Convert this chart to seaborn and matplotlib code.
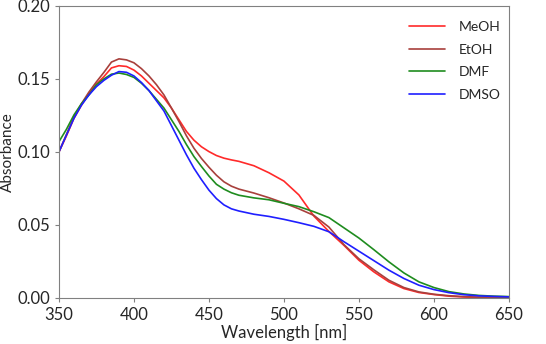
import pandas as pd
import seaborn as sns
import matplotlib.pyplot as plt

wavelength = [350, 355, 360, 365, 370, 375, 380, 385, 390, 395, 400, 405, 410, 415, 420, 425,
              430, 435, 440, 445, 450, 455, 460, 465, 470, 480, 490, 500, 510, 520, 530, 540,
              550, 560, 570, 580, 590, 600, 610, 620, 630, 640, 650]

meoh = [0.100, 0.111, 0.123, 0.132, 0.140, 0.1464, 0.1516, 0.1575, 0.159, 0.1585, 0.156, 0.152,
        0.147, 0.142, 0.137, 0.130, 0.122, 0.114, 0.108, 0.1035, 0.1002, 0.0975, 0.0957, 0.0945,
        0.0935, 0.0905, 0.0857, 0.080, 0.0705, 0.056, 0.0455, 0.036, 0.0258, 0.0178, 0.011,
        0.0064, 0.0037, 0.0023, 0.0012, 0.0006, 0.0003, 0.0002, 0.0001]
etoh = [0.100, 0.112, 0.124, 0.133, 0.141, 0.148, 0.1545, 0.1615, 0.1637, 0.163, 0.161, 0.157,
        0.152, 0.146, 0.139, 0.130, 0.1208, 0.111, 0.1025, 0.0955, 0.0895, 0.084, 0.0795, 0.0765,
        0.0745, 0.0718, 0.0686, 0.065, 0.061, 0.0565, 0.0485, 0.0365, 0.0268, 0.0192, 0.0121,
        0.0071, 0.0041, 0.0025, 0.0015, 0.0009, 0.0005, 0.0003, 0.0002]
dmf = [0.107, 0.1155, 0.1253, 0.133, 0.139, 0.146, 0.150, 0.1532, 0.154, 0.153, 0.151, 0.147,
       0.142, 0.136, 0.130, 0.122, 0.114, 0.105, 0.0968, 0.090, 0.0835, 0.0778, 0.0745, 0.072,
       0.0703, 0.0685, 0.0672, 0.0648, 0.0625, 0.059, 0.055, 0.048, 0.041, 0.033, 0.0247,
       0.0171, 0.011, 0.0071, 0.0043, 0.0027, 0.0017, 0.0012, 0.0009]
dmso = [0.100, 0.1116, 0.123, 0.132, 0.139, 0.1447, 0.149, 0.1525, 0.155, 0.1545, 0.152, 0.1475,
        0.142, 0.135, 0.128, 0.118, 0.108, 0.098, 0.0888, 0.081, 0.0738, 0.068, 0.0637, 0.061,
        0.0595, 0.0573, 0.0558, 0.0538, 0.0515, 0.049, 0.0453, 0.0385, 0.032, 0.0255, 0.019,
        0.0133, 0.0087, 0.0057, 0.0036, 0.0022, 0.0014, 0.001, 0.0007]

solvents = ["MeOH", "EtOH", "DMF", "DMSO"]
colors = ["#ff2a2a", "#a8403c", "#1f8c1f", "#1f1fff"]

df = pd.DataFrame({"Wavelength": wavelength, "MeOH": meoh, "EtOH": etoh, "DMF": dmf, "DMSO": dmso})
long = df.melt(id_vars="Wavelength", var_name="Solvent", value_name="Absorbance")

sns.set_style("ticks")
plt.rcParams['font.family'] = ['Lato', 'DejaVu Sans']

fig = plt.figure(figsize=(5.46, 3.44), dpi=100)
ax = fig.add_axes([0.108, 0.134, 0.824, 0.849])
sns.lineplot(data=long, x="Wavelength", y="Absorbance", hue="Solvent", hue_order=solvents,
             palette=colors, linewidth=1.2, ax=ax)

ax.set_xlim(350, 650)
ax.set_ylim(0, 0.2)
ax.set_xticks([350, 400, 450, 500, 550, 600, 650])
ax.set_yticks([0, 0.05, 0.10, 0.15, 0.20])
ax.set_yticklabels(["0.00", "0.05", "0.10", "0.15", "0.20"])
ax.tick_params(labelsize=12, length=3, color="#808080")
ax.set_xlabel("Wavelength [nm]", fontsize=12, labelpad=1)
ax.set_ylabel("Absorbance", fontsize=11)
ax.yaxis.set_label_coords(-0.098, 0.5)
for s in ax.spines.values():
    s.set_color("#808080")

ax.legend(title=None, frameon=False, fontsize=10, loc="upper right",
          bbox_to_anchor=(1.01, 0.99), handlelength=2.6, handletextpad=1.0,
          labelspacing=0.75)

fig.savefig("out.png", dpi=100)
